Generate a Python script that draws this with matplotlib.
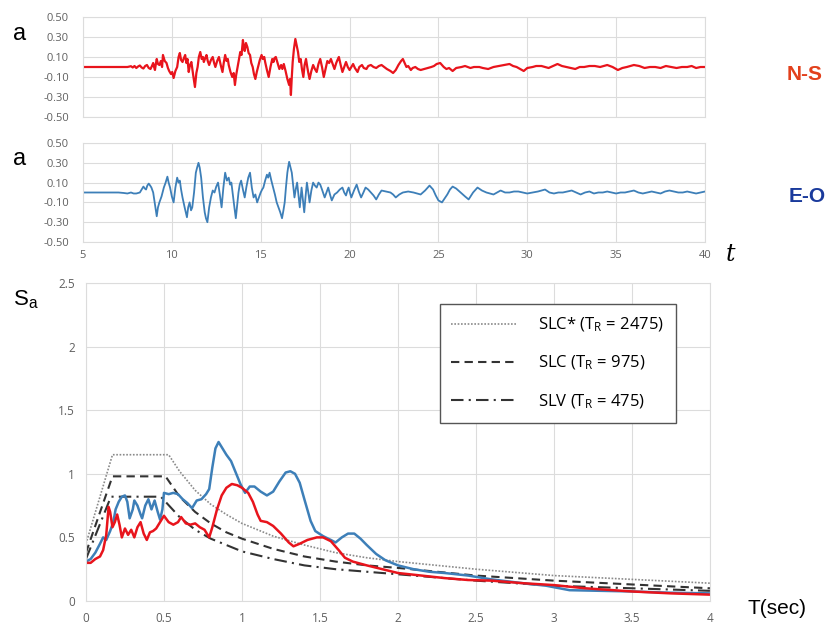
import matplotlib.pyplot as plt
from matplotlib.ticker import FuncFormatter

plt.rcParams['font.family'] = ['Open Sans', 'DejaVu Sans']
plt.rcParams['mathtext.default'] = 'regular'

# accelerogram N-S: (time s, acceleration)
ns_points = [
    (5.0, 0.0), (7.5, 0.0), (7.7, 0.008), (7.8, -0.005), (7.9, 0.01), (8.0, -0.01), (8.1, 0.005),
    (8.2, 0.015), (8.3, -0.005), (8.4, -0.015), (8.5, 0.01), (8.6, 0.02), (8.7, -0.01), (8.8, -0.02),
    (8.88, 0.01), (8.95, 0.04), (9.0, 0.0), (9.05, -0.03), (9.1, 0.03), (9.15, 0.08), (9.22, 0.03),
    (9.3, 0.02), (9.38, 0.06), (9.45, 0.0), (9.5, 0.12), (9.6, 0.06), (9.7, 0.04), (9.78, -0.01),
    (9.85, -0.04), (9.95, -0.07), (10.02, -0.05), (10.1, -0.11), (10.2, -0.04), (10.3, 0.0),
    (10.38, 0.1), (10.45, 0.14), (10.52, 0.07), (10.6, 0.05), (10.68, 0.09), (10.75, 0.12),
    (10.82, 0.04), (10.88, 0.08), (10.95, -0.05), (11.02, 0.02), (11.1, 0.05), (11.2, -0.08),
    (11.3, -0.2), (11.38, -0.06), (11.45, 0.0), (11.52, 0.1), (11.6, 0.15), (11.68, 0.08),
    (11.75, 0.1), (11.8, 0.05), (11.88, 0.09), (11.95, 0.12), (12.02, 0.06), (12.1, 0.02),
    (12.2, 0.07), (12.3, 0.1), (12.38, 0.04), (12.45, 0.0), (12.55, 0.06), (12.65, 0.1),
    (12.75, 0.02), (12.85, -0.05), (12.92, 0.04), (13.0, 0.12), (13.08, 0.06), (13.15, 0.08),
    (13.2, 0.02), (13.3, -0.05), (13.4, -0.1), (13.48, -0.06), (13.55, -0.18), (13.62, -0.08),
    (13.7, 0.0), (13.78, 0.08), (13.85, 0.15), (13.92, 0.12), (14.0, 0.27), (14.05, 0.2),
    (14.1, 0.16), (14.17, 0.24), (14.25, 0.2), (14.32, 0.14), (14.4, 0.12), (14.47, 0.04),
    (14.55, 0.0), (14.62, -0.07), (14.7, -0.12), (14.78, -0.05), (14.85, 0.0), (14.95, 0.07),
    (15.05, 0.12), (15.12, 0.08), (15.2, 0.1), (15.25, 0.05), (15.35, -0.03), (15.45, -0.1),
    (15.55, 0.0), (15.65, 0.08), (15.72, 0.05), (15.78, 0.09), (15.85, 0.1), (15.95, 0.04),
    (16.05, -0.02), (16.15, 0.02), (16.22, -0.02), (16.3, 0.03), (16.4, -0.04), (16.5, -0.12),
    (16.6, -0.18), (16.65, -0.12), (16.7, -0.28), (16.75, -0.1), (16.8, 0.05), (16.87, 0.18),
    (16.95, 0.28), (17.02, 0.22), (17.1, 0.15), (17.17, 0.05), (17.25, 0.08), (17.32, -0.02),
    (17.4, -0.1), (17.47, 0.02), (17.55, 0.08), (17.62, 0.0), (17.68, -0.06), (17.75, -0.12),
    (17.85, -0.04), (17.95, 0.02), (18.05, -0.02), (18.15, -0.05), (18.25, 0.03), (18.35, 0.08),
    (18.45, 0.0), (18.55, -0.1), (18.65, -0.02), (18.75, 0.06), (18.85, 0.04), (18.95, 0.08),
    (19.05, 0.03), (19.15, -0.02), (19.25, 0.04), (19.32, 0.07), (19.4, 0.1), (19.5, 0.02),
    (19.6, -0.05), (19.7, 0.0), (19.8, 0.05), (19.9, 0.0), (20.0, -0.03), (20.1, 0.0),
    (20.2, 0.03), (20.3, -0.01), (20.45, -0.05), (20.55, 0.0), (20.7, 0.02), (20.8, -0.01),
    (20.95, -0.02), (21.05, 0.01), (21.2, 0.02), (21.35, 0.0), (21.5, -0.01), (21.65, 0.01),
    (21.8, 0.02), (21.95, 0.0), (22.1, -0.02), (22.3, -0.04), (22.45, -0.06), (22.6, -0.03),
    (22.75, 0.02), (22.9, 0.06), (23.0, 0.08), (23.1, 0.04), (23.2, 0.0), (23.3, 0.01),
    (23.45, -0.03), (23.55, -0.01), (23.7, 0.0), (23.85, -0.02), (24.0, -0.03), (24.2, -0.02),
    (24.4, -0.01), (24.6, 0.0), (24.75, 0.01), (24.9, 0.03), (25.1, 0.04), (25.3, 0.0),
    (25.45, -0.02), (25.6, -0.01), (25.8, -0.04), (26.0, -0.01), (26.3, 0.0), (26.5, 0.01),
    (26.8, -0.01), (27.0, 0.0), (27.3, 0.0), (27.5, -0.01), (27.8, -0.02), (28.1, 0.0),
    (28.4, 0.01), (28.7, 0.02), (29.0, 0.03), (29.2, 0.01), (29.4, 0.0), (29.6, -0.02),
    (29.8, -0.04), (30.0, -0.01), (30.3, 0.0), (30.5, 0.01), (30.8, 0.01), (31.0, 0.0),
    (31.2, -0.01), (31.45, 0.01), (31.7, 0.03), (31.95, 0.01), (32.2, 0.0), (32.45, -0.01),
    (32.7, -0.02), (32.95, 0.0), (33.2, 0.0), (33.5, 0.01), (33.8, 0.01), (34.1, 0.0),
    (34.5, 0.02), (34.8, 0.0), (35.1, -0.03), (35.35, -0.01), (35.6, 0.0), (36.0, 0.02),
    (36.3, 0.01), (36.6, -0.01), (36.9, 0.0), (37.2, 0.0), (37.5, -0.01), (37.8, 0.01),
    (38.1, 0.0), (38.4, -0.01), (38.7, 0.0), (39.0, 0.0), (39.25, 0.01), (39.5, -0.01),
    (39.75, 0.0), (40.0, 0.0),
]

# accelerogram E-O: (time s, acceleration)
eo_points = [
    (5.0, 0.0), (7.0, 0.0), (7.3, -0.005), (7.5, -0.01), (7.7, 0.0), (7.85, -0.01), (8.0, -0.01),
    (8.1, -0.005), (8.2, 0.0), (8.3, 0.03), (8.4, 0.06), (8.48, 0.04), (8.55, 0.03), (8.62, 0.07),
    (8.7, 0.09), (8.78, 0.07), (8.85, 0.05), (8.95, 0.0), (9.05, -0.12), (9.15, -0.24),
    (9.22, -0.15), (9.3, -0.1), (9.42, -0.04), (9.55, 0.05), (9.65, 0.1), (9.75, 0.16),
    (9.82, 0.1), (9.9, 0.05), (10.0, -0.04), (10.1, -0.1), (10.2, 0.05), (10.3, 0.15),
    (10.38, 0.1), (10.45, 0.12), (10.52, 0.03), (10.6, -0.05), (10.72, -0.15), (10.85, -0.25),
    (10.92, -0.15), (11.0, -0.1), (11.08, -0.18), (11.15, -0.15), (11.25, 0.0), (11.35, 0.2),
    (11.42, 0.25), (11.5, 0.3), (11.57, 0.25), (11.65, 0.15), (11.75, -0.05), (11.85, -0.2),
    (11.92, -0.26), (12.0, -0.3), (12.1, -0.15), (12.2, -0.05), (12.3, 0.02), (12.4, 0.0),
    (12.5, 0.06), (12.6, 0.1), (12.7, -0.02), (12.8, -0.15), (12.9, 0.05), (13.0, 0.2),
    (13.1, 0.12), (13.2, 0.15), (13.28, 0.08), (13.35, 0.1), (13.45, -0.05), (13.52, -0.15),
    (13.6, -0.26), (13.68, -0.12), (13.75, 0.0), (13.82, 0.08), (13.9, 0.12), (14.0, 0.03),
    (14.1, -0.05), (14.2, 0.06), (14.3, 0.15), (14.4, 0.2), (14.5, 0.05), (14.6, -0.05),
    (14.7, -0.02), (14.8, -0.1), (14.9, -0.05), (15.0, 0.0), (15.08, 0.03), (15.15, 0.05),
    (15.25, 0.12), (15.35, 0.18), (15.42, 0.15), (15.5, 0.2), (15.6, 0.12), (15.7, 0.05),
    (15.8, -0.02), (15.9, -0.1), (16.0, -0.15), (16.1, -0.2), (16.2, -0.26), (16.28, -0.18),
    (16.35, -0.1), (16.42, 0.05), (16.5, 0.2), (16.55, 0.26), (16.6, 0.31), (16.68, 0.25),
    (16.75, 0.2), (16.82, 0.08), (16.9, -0.05), (16.97, 0.03), (17.05, 0.1), (17.12, -0.02),
    (17.2, -0.15), (17.25, -0.05), (17.3, 0.05), (17.38, -0.08), (17.45, -0.2), (17.52, -0.05),
    (17.6, 0.1), (17.68, 0.0), (17.75, -0.1), (17.85, 0.02), (17.95, 0.1), (18.05, 0.07),
    (18.15, 0.05), (18.25, 0.1), (18.35, 0.08), (18.45, 0.03), (18.6, -0.05), (18.7, 0.0),
    (18.8, 0.05), (18.9, -0.02), (19.0, -0.08), (19.15, -0.02), (19.3, 0.0), (19.45, 0.03),
    (19.6, 0.05), (19.7, 0.0), (19.8, -0.03), (19.88, 0.02), (19.95, 0.05), (20.02, 0.0),
    (20.1, -0.05), (20.25, 0.02), (20.4, 0.08), (20.52, 0.01), (20.65, -0.05), (20.78, 0.0),
    (20.9, 0.05), (21.05, 0.03), (21.2, 0.0), (21.35, -0.03), (21.5, -0.07), (21.65, -0.02),
    (21.8, 0.02), (22.05, 0.01), (22.3, 0.0), (22.45, -0.02), (22.6, -0.05), (22.8, -0.02),
    (23.0, 0.0), (23.3, 0.01), (23.6, 0.0), (23.8, -0.01), (24.0, -0.02), (24.25, 0.02),
    (24.5, 0.07), (24.7, 0.03), (24.85, -0.03), (25.0, -0.08), (25.2, -0.1), (25.35, -0.06),
    (25.5, -0.02), (25.65, 0.03), (25.8, 0.06), (26.0, 0.04), (26.25, 0.0), (26.5, -0.04),
    (26.7, -0.07), (26.95, 0.0), (27.2, 0.05), (27.45, 0.02), (27.7, 0.0), (27.9, -0.01),
    (28.1, -0.02), (28.3, 0.0), (28.5, 0.02), (28.75, 0.0), (29.0, 0.0), (29.25, 0.01),
    (29.5, 0.01), (29.75, 0.0), (30.0, -0.01), (30.3, 0.0), (30.6, 0.01), (30.8, 0.02),
    (31.0, 0.03), (31.25, 0.0), (31.5, -0.01), (31.75, 0.0), (32.0, 0.0), (32.25, 0.01),
    (32.5, 0.02), (32.75, 0.0), (33.0, -0.02), (33.25, 0.0), (33.5, 0.01), (33.75, -0.01),
    (34.0, 0.0), (34.25, 0.0), (34.5, 0.01), (34.75, 0.0), (35.0, -0.01), (35.25, 0.0),
    (35.5, 0.0), (35.75, 0.01), (36.0, 0.02), (36.25, 0.0), (36.5, -0.01), (36.75, 0.0),
    (37.0, 0.01), (37.25, 0.0), (37.5, -0.01), (37.75, 0.01), (38.0, 0.02), (38.25, 0.01),
    (38.5, 0.0), (38.75, 0.0), (39.0, 0.01), (39.25, 0.0), (39.5, -0.01), (39.75, 0.0),
    (40.0, 0.01),
]

# response spectra (T sec, Sa)
sp_ns_T = [0.0, 0.03, 0.06, 0.09, 0.11, 0.13, 0.145, 0.155, 0.17, 0.185, 0.2, 0.215, 0.23,
           0.25, 0.27, 0.29, 0.31, 0.33, 0.35, 0.37, 0.39, 0.41, 0.43, 0.45, 0.48, 0.5,
           0.53, 0.56, 0.59, 0.61, 0.64, 0.67, 0.7, 0.73, 0.76, 0.79, 0.81, 0.84, 0.87,
           0.9, 0.935, 0.97, 1.0, 1.04, 1.07, 1.1, 1.12, 1.16, 1.2, 1.25, 1.3, 1.33,
           1.37, 1.42, 1.48, 1.52, 1.57, 1.62, 1.66, 1.71, 1.8, 1.9, 2.0, 2.15, 2.3,
           2.45, 2.6, 2.8, 3.0, 3.2, 3.5, 3.75, 4.0]
sp_ns = [0.3, 0.3, 0.33, 0.35, 0.4, 0.52, 0.74, 0.7, 0.58, 0.62, 0.68, 0.6, 0.5,
         0.57, 0.52, 0.56, 0.5, 0.58, 0.62, 0.53, 0.48, 0.54, 0.55, 0.57, 0.63, 0.67,
         0.62, 0.6, 0.62, 0.66, 0.61, 0.6, 0.61, 0.58, 0.56, 0.5, 0.58, 0.72, 0.83,
         0.89, 0.92, 0.91, 0.89, 0.85, 0.78, 0.68, 0.63, 0.62, 0.59, 0.53, 0.46, 0.43,
         0.45, 0.48, 0.5, 0.5, 0.47, 0.4, 0.34, 0.31, 0.28, 0.25, 0.22, 0.2, 0.18,
         0.165, 0.16, 0.14, 0.125, 0.1, 0.075, 0.06, 0.05]

sp_eo_T = [0.0, 0.03, 0.06, 0.09, 0.11, 0.13, 0.155, 0.175, 0.19, 0.21, 0.23, 0.25, 0.265,
           0.28, 0.3, 0.31, 0.33, 0.35, 0.36, 0.38, 0.4, 0.42, 0.44, 0.46, 0.475, 0.49,
           0.5, 0.53, 0.56, 0.59, 0.62, 0.65, 0.68, 0.71, 0.74, 0.77, 0.79, 0.81, 0.83,
           0.85, 0.87, 0.9, 0.93, 0.96, 0.99, 1.02, 1.05, 1.08, 1.12, 1.16, 1.2, 1.24,
           1.28, 1.31, 1.34, 1.37, 1.4, 1.44, 1.47, 1.52, 1.57, 1.6, 1.64, 1.68, 1.72,
           1.76, 1.8, 1.86, 1.92, 2.0, 2.1, 2.2, 2.3, 2.45, 2.6, 2.8, 2.95, 3.1, 3.3,
           3.5, 3.75, 4.0]
sp_eo = [0.31, 0.33, 0.38, 0.45, 0.5, 0.48, 0.55, 0.62, 0.72, 0.78, 0.82, 0.83, 0.78,
         0.65, 0.72, 0.79, 0.75, 0.68, 0.65, 0.75, 0.8, 0.72, 0.79, 0.7, 0.64, 0.72,
         0.85, 0.84, 0.85, 0.84, 0.8, 0.77, 0.73, 0.79, 0.8, 0.84, 0.88, 1.05, 1.2,
         1.25, 1.21, 1.15, 1.1, 1.01, 0.92, 0.85, 0.9, 0.9, 0.86, 0.83, 0.86, 0.94,
         1.01, 1.02, 1.0, 0.93, 0.8, 0.63, 0.55, 0.51, 0.48, 0.46, 0.5, 0.53, 0.53,
         0.49, 0.44, 0.37, 0.32, 0.28, 0.25, 0.23, 0.22, 0.2, 0.17, 0.14, 0.12, 0.085, 0.08,
         0.075, 0.065, 0.06]

# design spectra
slcs_T = [0.0, 0.17, 0.53, 0.6, 0.7, 0.8, 0.9, 1.0, 1.2, 1.4, 1.6, 1.8, 2.0, 2.5, 3.0, 3.5, 4.0]
slcs = [0.45, 1.15, 1.15, 1.02, 0.87, 0.76, 0.68, 0.61, 0.51, 0.44, 0.38, 0.34, 0.31, 0.25, 0.2, 0.17, 0.14]
slc_T = [0.0, 0.17, 0.51, 0.6, 0.7, 0.8, 0.9, 1.0, 1.2, 1.4, 1.6, 1.8, 2.0, 2.5, 3.0, 3.5, 4.0]
slc = [0.38, 0.98, 0.98, 0.82, 0.7, 0.61, 0.54, 0.49, 0.41, 0.35, 0.31, 0.28, 0.26, 0.2, 0.16, 0.13, 0.1]
slv_T = [0.0, 0.16, 0.48, 0.6, 0.7, 0.8, 0.9, 1.0, 1.2, 1.4, 1.6, 1.8, 2.0, 2.5, 3.0, 3.5, 4.0]
slv = [0.33, 0.82, 0.82, 0.66, 0.56, 0.49, 0.44, 0.39, 0.33, 0.28, 0.25, 0.23, 0.21, 0.16, 0.12, 0.1, 0.08]

ns_t, ns_a = zip(*ns_points)
eo_t, eo_a = zip(*eo_points)

red = '#e8141c'
blue = '#3d7fb8'
grid_c = '#dcdcdc'
tick_c = '#606060'

fig = plt.figure(figsize=(8.29, 6.25), dpi=100)
ax1 = fig.add_axes([0.1001, 0.8128, 0.7503, 0.16])
ax2 = fig.add_axes([0.1001, 0.6128, 0.7503, 0.1584])
ax3 = fig.add_axes([0.1037, 0.0384, 0.7527, 0.5088])

for ax, t, a, c, w in [(ax1, ns_t, ns_a, red, 1.6), (ax2, eo_t, eo_a, blue, 1.3)]:
    ax.plot(t, a, color=c, lw=w)
    ax.set_xlim(5, 40)
    ax.set_ylim(-0.5, 0.5)
    ax.set_yticks([0.5, 0.3, 0.1, -0.1, -0.3, -0.5])
    ax.yaxis.set_major_formatter(FuncFormatter(lambda v, p: '%.2f' % v))
    ax.set_xticks([5, 10, 15, 20, 25, 30, 35, 40])
    ax.grid(True, color=grid_c, lw=0.8)
    ax.set_axisbelow(True)
    for s in ax.spines.values():
        s.set_color(grid_c)
    ax.tick_params(length=0, labelsize=8, colors=tick_c, pad=10)
ax1.set_xticklabels([])
ax2.tick_params(axis='x', pad=6)

ax3.plot(slcs_T, slcs, color='#8a8a8a', lw=1.2, ls=(0, (1, 1)), label='SLC* (T$_{R}$ = 2475)')
ax3.plot(slc_T, slc, color='#333333', lw=1.5, ls=(0, (4, 2.5)), label='SLC (T$_{R}$ = 975)')
ax3.plot(slv_T, slv, color='#333333', lw=1.5, ls=(0, (6, 2.5, 1, 2.5)), label='SLV (T$_{R}$ = 475)')
ax3.plot(sp_eo_T, sp_eo, color=blue, lw=1.8)
ax3.plot(sp_ns_T, sp_ns, color=red, lw=1.8)
ax3.set_xlim(0, 4)
ax3.set_ylim(0, 2.5)
ax3.set_xticks([0, 0.5, 1, 1.5, 2, 2.5, 3, 3.5, 4])
ax3.set_yticks([0, 0.5, 1, 1.5, 2, 2.5])
fmt = FuncFormatter(lambda v, p: '%g' % v)
ax3.xaxis.set_major_formatter(fmt)
ax3.yaxis.set_major_formatter(fmt)
ax3.grid(True, color=grid_c, lw=0.8)
ax3.set_axisbelow(True)
for s in ax3.spines.values():
    s.set_color(grid_c)
ax3.tick_params(length=0, labelsize=8.5, colors=tick_c, pad=8)

leg = ax3.legend(loc='upper left', bbox_to_anchor=(0.567, 0.934), handlelength=3.9,
                 labelspacing=1.2, borderpad=0.7, handletextpad=1.3, fontsize=12,
                 fancybox=False, framealpha=1, borderaxespad=0)
leg.get_frame().set_edgecolor('#555555')
leg.get_frame().set_linewidth(1.0)

lab_font = ['Liberation Sans', 'DejaVu Sans']
fig.text(13 / 829, 1 - 34 / 625, 'a', fontsize=17, va='center', ha='left', family=lab_font)
fig.text(13 / 829, 1 - 159 / 625, 'a', fontsize=17, va='center', ha='left', family=lab_font)
fig.text(805 / 829, 1 - 75 / 625, 'N-S', fontsize=15, fontweight='bold', color='#e2401c',
         ha='center', va='center', family=lab_font)
fig.text(807 / 829, 1 - 197 / 625, 'E-O', fontsize=15, fontweight='bold', color='#1a3a9c',
         ha='center', va='center', family=lab_font)
fig.text(730 / 829, 1 - 255 / 625, 't', fontsize=17, style='italic', family='DejaVu Serif',
         ha='center', va='center')
fig.text(13 / 829, 1 - 300 / 625, 'S$_{a}$', fontsize=16, ha='left', va='center', family=lab_font)
fig.text(777 / 829, 1 - 609 / 625, 'T(sec)', fontsize=15, ha='center', va='center', family=lab_font)

fig.savefig('out.png', dpi=100)
